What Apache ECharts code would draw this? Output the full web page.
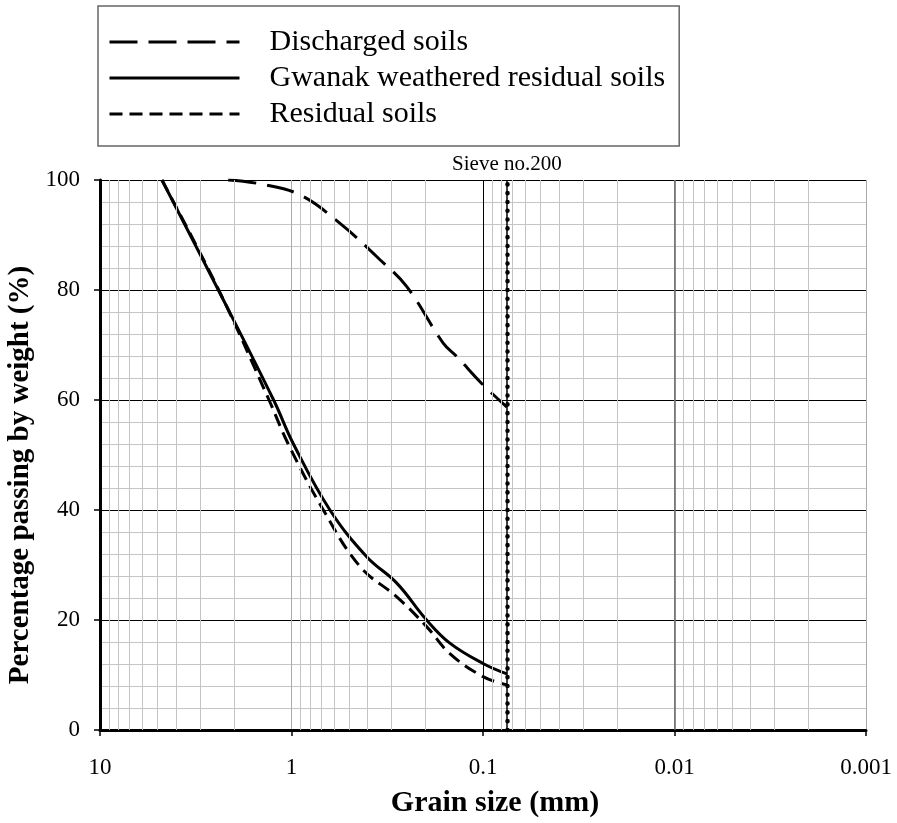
<!DOCTYPE html>
<html>
<head>
<meta charset="utf-8">
<script src="https://cdn.jsdelivr.net/npm/echarts@6/dist/echarts.min.js"></script>
<style>
  html, body { margin: 0; padding: 0; background: #fff; }
  #main { width: 897px; height: 823px; }
</style>
</head>
<body>
<div id="main"></div>
<script>
var chart = echarts.init(document.getElementById('main'));

// grain size (mm) / percent passing
var dischargedSize = [2.14, 1.46, 0.903, 0.558, 0.345, 0.25, 0.161, 0.137, 0.1016, 0.075];
var dischargedPass = [100, 99.3, 97.3, 92.1, 85.5, 80.6, 70.3, 67.9, 63, 58.7];

var gwanakSize = [4.75, 2.41, 1.24, 0.977, 0.63, 0.405, 0.282, 0.197, 0.149, 0.1, 0.075];
var gwanakPass = [100, 80, 60, 52, 40, 31.5, 26.7, 20, 15.8, 12.1, 10.2];

var residualSize = [4.75, 2.4, 1.31, 1.04, 0.682, 0.438, 0.282, 0.197, 0.149, 0.1, 0.075];
var residualPass = [100, 80, 60, 52, 40, 29.7, 24.2, 18.8, 13.9, 9.7, 8.2];

var sieveSize = 0.075;
var seriesNames = ['Discharged soils', 'Gwanak weathered residual soils', 'Residual soils'];

// minor vertical grid lines: 2..9 in each decade
var minorX = [];
[0.001, 0.01, 0.1, 1].forEach(function (d) {
    for (var k = 2; k <= 9; k++) minorX.push(+(d * k).toPrecision(3));
});

function pairs(xs, ys) {
    return xs.map(function (x, i) { return [x, ys[i]]; });
}

var serif = 'Liberation Serif';

chart.setOption({
    animation: false,
    backgroundColor: '#fff',
    grid: { left: 100, right: 31, top: 180, bottom: 93, outerBoundsMode: 'none' },
    legend: {
        data: seriesNames,
        orient: 'vertical',
        left: 98,
        top: 6,
        padding: [21, 14, 17, 10],
        itemWidth: 130,
        itemHeight: 14,
        itemGap: 6,
        backgroundColor: '#fff',
        borderColor: '#666',
        borderWidth: 1.5,
        itemStyle: { opacity: 0 },
        lineStyle: { width: 3 },
        textStyle: {
            fontFamily: serif, fontSize: 30, color: '#000',
            padding: [0, 0, 0, 25]
        }
    },
    xAxis: {
        type: 'log',
        logBase: 10,
        min: 0.001,
        max: 10,
        inverse: true,
        name: 'Grain size (mm)',
        nameLocation: 'middle',
        nameGap: 58,
        nameTextStyle: {
            fontFamily: serif, fontSize: 30, fontWeight: 'bold', color: '#000',
            padding: [0, 0, 0, 24]
        },
        axisLine: { lineStyle: { color: '#000', width: 3 } },
        axisTick: { show: true, length: 6, lineStyle: { color: '#000', width: 1.5 } },
        axisLabel: {
            fontFamily: serif, fontSize: 23, color: '#000', margin: 26,
            formatter: function (v) { return String(+v.toPrecision(3)); }
        },
        splitLine: { show: true, lineStyle: { color: '#aaa', width: 1 } }
    },
    yAxis: {
        type: 'value',
        min: 0,
        max: 100,
        interval: 20,
        name: 'Percentage passing by weight (%)',
        nameLocation: 'middle',
        nameGap: 64,
        nameTextStyle: {
            fontFamily: serif, fontSize: 29, fontWeight: 'bold', color: '#000',
            padding: [0, 40, 0, 0]
        },
        axisLine: { show: true, lineStyle: { color: '#000', width: 3 } },
        axisTick: { show: true, length: 6, lineStyle: { color: '#000', width: 1.5 } },
        axisLabel: { fontFamily: serif, fontSize: 23, color: '#000', margin: 20 },
        splitLine: { show: true, lineStyle: { color: '#000', width: 1 } },
        minorTick: { show: false, splitNumber: 5 },
        minorSplitLine: { show: true, lineStyle: { color: '#c4c4c4', width: 1 } }
    },
    series: [
        {
            name: 'grid-minor',
            type: 'line',
            data: [],
            silent: true,
            z: 1,
            markLine: {
                silent: true,
                symbol: 'none',
                precision: 6,
                label: { show: false },
                lineStyle: { color: '#c4c4c4', width: 1, type: 'solid' },
                data: minorX.map(function (v) { return { xAxis: v }; })
                    .concat([
                        { xAxis: 0.1, lineStyle: { color: '#000', width: 1, type: 'solid' } },
                        { xAxis: 0.01, lineStyle: { color: '#666', width: 1.5, type: 'solid' } }
                    ])
            }
        },
        {
            name: seriesNames[0],
            type: 'line',
            smooth: 0.4,
            symbol: 'none',
            z: 3,
            lineStyle: { color: '#000', width: 3, type: [28, 11] },
            itemStyle: { color: '#000' },
            data: pairs(dischargedSize, dischargedPass)
        },
        {
            name: seriesNames[1],
            type: 'line',
            smooth: 0.4,
            symbol: 'none',
            z: 3,
            lineStyle: { color: '#000', width: 3, type: 'solid' },
            itemStyle: { color: '#000' },
            data: pairs(gwanakSize, gwanakPass)
        },
        {
            name: seriesNames[2],
            type: 'line',
            smooth: 0.4,
            symbol: 'none',
            z: 3,
            lineStyle: { color: '#000', width: 3, type: [13, 7] },
            itemStyle: { color: '#000' },
            data: pairs(residualSize, residualPass)
        },
        {
            name: 'sieve',
            type: 'line',
            data: [],
            silent: true,
            z: 4,
            markLine: {
                silent: true,
                symbol: 'none',
                precision: 6,
                label: {
                    show: true, position: 'end', formatter: 'Sieve no.200',
                    fontFamily: serif, fontSize: 21, color: '#000', distance: 5
                },
                lineStyle: { color: '#000', width: 1.5, type: 'solid' },
                data: [{ xAxis: sieveSize }]
            }
        },
        {
            name: 'sieve-dots',
            type: 'line',
            data: [],
            silent: true,
            z: 5,
            markLine: {
                silent: true,
                symbol: 'none',
                precision: 6,
                label: { show: false },
                lineStyle: { color: '#000', width: 4.5, type: [0.1, 8.7], cap: 'round' },
                data: [{ xAxis: sieveSize }]
            }
        }
    ]
});
</script>
</body>
</html>
